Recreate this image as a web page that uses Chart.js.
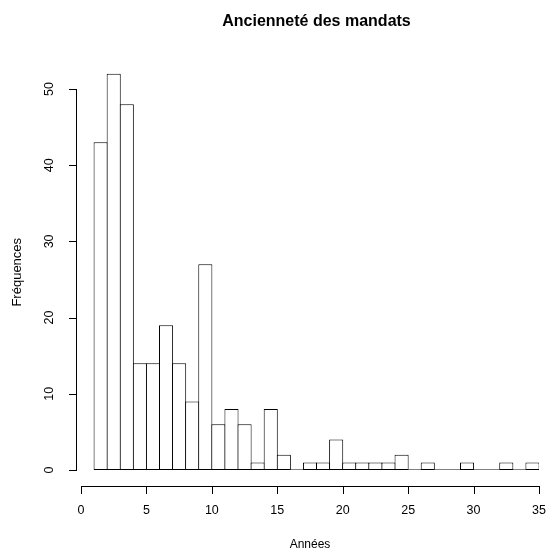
<!DOCTYPE html>
<html lang="fr">
<head>
<meta charset="utf-8">
<title>Ancienneté des mandats</title>
<script src="https://cdn.jsdelivr.net/npm/chart.js@4.4.0/dist/chart.umd.min.js"></script>
<style>
  html, body { margin: 0; padding: 0; background: #fff; }
  #cadre { width: 548px; height: 551px; }
</style>
</head>
<body>
<div id="cadre"><canvas id="histo" width="548" height="551"></canvas></div>
<script>
const bornes = [1, 2, 3, 4, 5, 6, 7, 8, 9, 10, 11, 12, 13, 14, 15, 16, 17, 18,
  19, 20, 21, 22, 23, 24, 25, 26, 27, 28, 29, 30, 31, 32, 33, 34, 35];
const effectifs = [43, 52, 48, 14, 14, 19, 14, 9, 27, 6, 8, 6, 1, 8, 2, 0, 1, 1,
  4, 1, 1, 1, 1, 2, 0, 1, 0, 0, 1, 0, 0, 1, 0, 1];

// Graduations des axes
const ticksX = [0, 5, 10, 15, 20, 25, 30, 35];
const ticksY = [0, 10, 20, 30, 40, 50];

// Textes
const titre = "Ancienneté des mandats";
const titreX = "Années";
const titreY = "Fréquences";

const police = '"Liberation Sans", Arial, Helvetica, sans-serif';

// Barres centrées au milieu de chaque classe
const barres = effectifs.map((n, i) => ({ x: (bornes[i] + bornes[i + 1]) / 2, y: n }));

// Axes "à la R" : détachés de la zone de tracé
const axesR = {
  id: "axesR",
  afterDraw(chart) {
    const { ctx, chartArea, scales: { x, y } } = chart;
    const bas = Math.round(y.getPixelForValue(0)) + 16;    // ligne de l'axe x
    const gauche = Math.round(x.getPixelForValue(0)) - 5;  // ligne de l'axe y

    ctx.save();
    ctx.strokeStyle = "#000";
    ctx.fillStyle = "#000";
    ctx.lineWidth = 1;

    // axe des x
    ctx.beginPath();
    ctx.moveTo(Math.round(x.getPixelForValue(ticksX[0])) + 0.5, bas + 0.5);
    ctx.lineTo(Math.round(x.getPixelForValue(ticksX[ticksX.length - 1])) + 0.5, bas + 0.5);
    ticksX.forEach(v => {
      const px = Math.round(x.getPixelForValue(v)) + 0.5;
      ctx.moveTo(px, bas);
      ctx.lineTo(px, bas + 8);
    });
    // axe des y
    ctx.moveTo(gauche + 0.5, Math.round(y.getPixelForValue(ticksY[0])) + 0.5);
    ctx.lineTo(gauche + 0.5, Math.round(y.getPixelForValue(ticksY[ticksY.length - 1])) + 0.5);
    ticksY.forEach(v => {
      const py = Math.round(y.getPixelForValue(v)) + 0.5;
      ctx.moveTo(gauche + 1, py);
      ctx.lineTo(gauche - 7, py);
    });
    ctx.stroke();

    // étiquettes
    ctx.font = "12.5px " + police;
    ctx.textAlign = "center";
    ctx.textBaseline = "middle";
    ticksX.forEach(v => ctx.fillText(String(v), x.getPixelForValue(v), bas + 25));
    ticksY.forEach(v => {
      ctx.save();
      ctx.translate(gauche - 26, y.getPixelForValue(v));
      ctx.rotate(-Math.PI / 2);
      ctx.fillText(String(v), 0, 0);
      ctx.restore();
    });

    // titres des axes
    const milieuX = (chartArea.left + chartArea.right) / 2;
    ctx.font = "12px " + police;
    ctx.fillText(titreX, milieuX, bas + 59);
    ctx.font = "13px " + police;
    ctx.save();
    ctx.translate(gauche - 59, (chartArea.top + bas) / 2);
    ctx.rotate(-Math.PI / 2);
    ctx.fillText(titreY, 0, 0);
    ctx.restore();

    // titre principal
    ctx.font = "bold 16px " + police;
    ctx.fillText(titre, milieuX + 6.5, 22);
    ctx.restore();
  }
};

const ctx = document.getElementById("histo").getContext("2d");
new Chart(ctx, {
  type: "bar",
  data: {
    datasets: [
      {
        type: "bar",
        data: barres,
        backgroundColor: "#fff",
        borderColor: "#000",
        borderWidth: 1,
        borderSkipped: false,
        inflateAmount: 0,
        categoryPercentage: 1,
        barPercentage: 1.077, // bords communs superposés
        order: 1
      },
      {
        // ligne de base des classes vides
        type: "line",
        data: [{ x: bornes[0], y: 0 }, { x: bornes[bornes.length - 1], y: 0 }],
        borderColor: "#000",
        borderWidth: 1,
        pointRadius: 0,
        order: 0
      }
    ]
  },
  options: {
    responsive: false,
    animation: false,
    events: [],
    layout: { padding: { left: 81, right: 9, top: 58.5, bottom: 81 } },
    plugins: {
      legend: { display: false },
      tooltip: { enabled: false },
      title: { display: false }
    },
    scales: {
      x: { type: "linear", display: false, min: 0, max: 35, offset: false },
      y: { display: false, min: 0, max: 54 }
    }
  },
  plugins: [axesR]
});
</script>
</body>
</html>
